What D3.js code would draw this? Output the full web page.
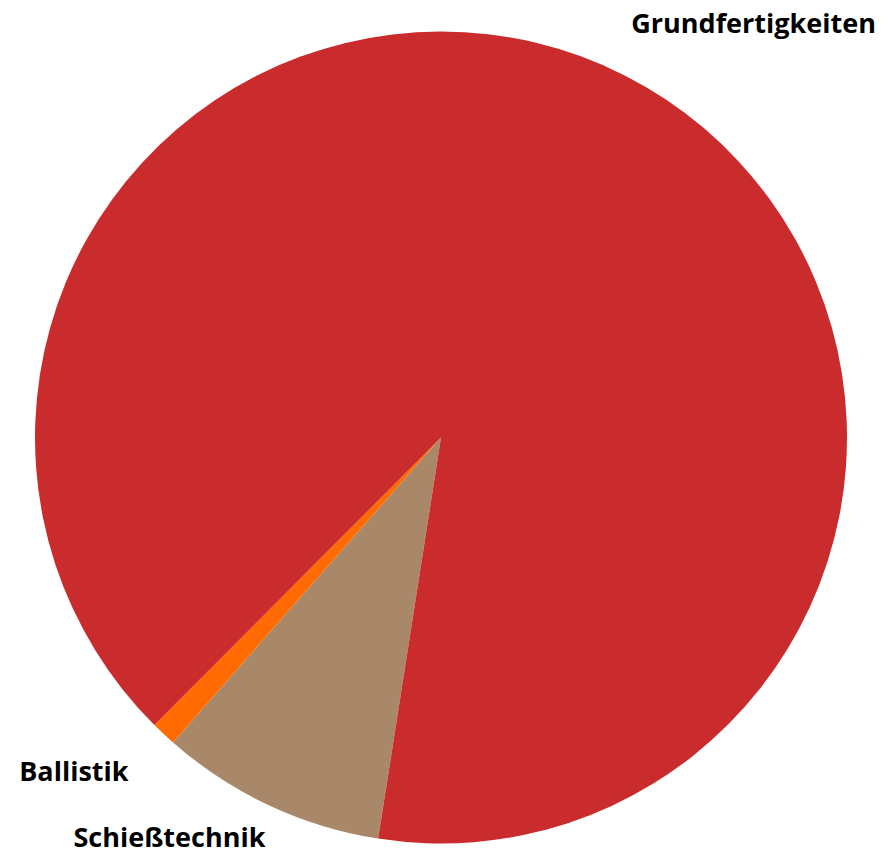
<!DOCTYPE html>
<html><head><meta charset="utf-8">
<script src="https://cdn.jsdelivr.net/npm/d3@7"></script>
<style>html,body{margin:0;padding:0;background:#fff;}svg{display:block;}</style>
</head><body>
<svg id="chart" width="890" height="851"></svg>
<script>
const categories = ["Schießtechnik", "Ballistik", "Grundfertigkeiten"];
const values = [9, 1, 90];
const colors = ["#a98769", "#ff6b00", "#ca2b2d"];

const W = 890, H = 851;
const cx = 441, cy = 437.5, r = 406;
const svg = d3.select("#chart");
const g = svg.append("g").attr("transform", `translate(${cx},${cy})`);

const start = 188.9 * Math.PI / 180;
const pie = d3.pie().sort(null).value(d => d.v).startAngle(start).endAngle(start + 2 * Math.PI);
const data = categories.map((c, i) => ({ c, v: values[i], col: colors[i] }));
const arcs = pie(data);
const arc = d3.arc().innerRadius(0).outerRadius(r);

g.selectAll("path").data(arcs).join("path")
  .attr("d", arc).attr("fill", d => d.data.col);

const R = 455;
const nudge = { "Grundfertigkeiten": [-15.6, 1], "Ballistik": [-1.6, 11], "Schießtechnik": [17.4, -2.5] };
g.selectAll("text").data(arcs).join("text")
  .each(function (d) {
    const a = (d.startAngle + d.endAngle) / 2;
    const n = nudge[d.data.c];
    const x = R * Math.sin(a) + n[0], y = -R * Math.cos(a) + n[1];
    d3.select(this).attr("x", x).attr("y", y)
      .attr("text-anchor", Math.sin(a) >= 0 ? "start" : "end");
  })
  .style("font-family", "'Open Sans', sans-serif")
  .style("font-weight", "bold").style("font-size", "27px").attr("fill", "#000")
  .text(d => d.data.c);
</script>
</body></html>
